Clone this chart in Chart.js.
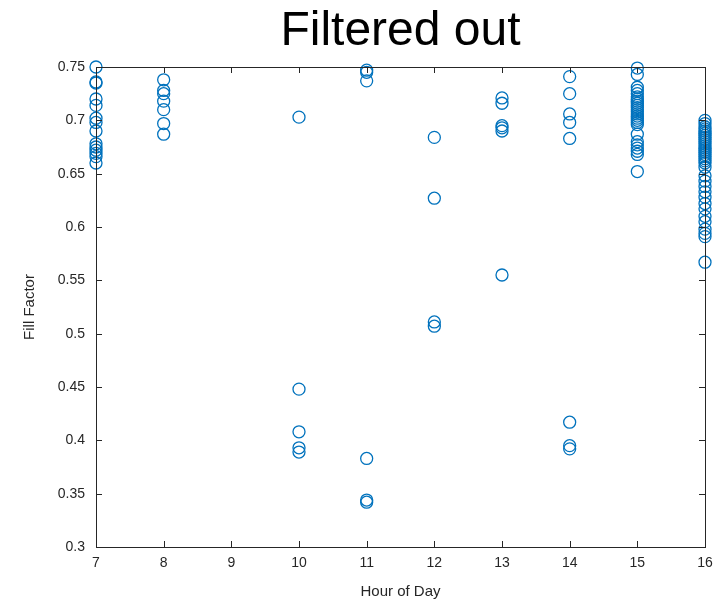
<!DOCTYPE html>
<html lang="en">
<head>
    <meta charset="UTF-8">
    <title>Filtered out</title>
    <script src="https://cdn.jsdelivr.net/npm/chart.js"></script>
    <style>
        html, body { margin: 0; padding: 0; background: #fff; }
        #wrap { position: relative; width: 715px; height: 601px; }
    </style>
</head>
<body>
    <div id="wrap"><canvas id="fillChart" width="715" height="601"></canvas></div>

    <script>
        // fill factor readings, grouped by hour of day
        const hours = [7, 8, 10, 11, 12, 13, 14, 15, 16];
        const h7 = [0.75, 0.736, 0.735, 0.72, 0.714, 0.702, 0.698, 0.69, 0.678, 0.675, 0.672, 0.669, 0.666, 0.66];
        const h8 = [0.738, 0.728, 0.725, 0.718, 0.71, 0.697, 0.687];
        const h10 = [0.703, 0.448, 0.408, 0.393, 0.389];
        const h11 = [0.747, 0.745, 0.737, 0.383, 0.344, 0.342];
        const h12 = [0.684, 0.627, 0.511, 0.507];
        const h13 = [0.721, 0.716, 0.695, 0.693, 0.69, 0.555];
        const h14 = [0.741, 0.725, 0.706, 0.698, 0.683, 0.417, 0.395, 0.392];
        const h15 = [0.749, 0.743, 0.731, 0.728, 0.725, 0.722, 0.72, 0.718, 0.716, 0.714, 0.712, 0.71,
                     0.708, 0.706, 0.704, 0.702, 0.7, 0.698, 0.696, 0.687, 0.68, 0.677, 0.674, 0.671, 0.668, 0.652];
        const h16 = [0.7, 0.697, 0.694, 0.692, 0.69, 0.688, 0.686, 0.684, 0.682, 0.68, 0.678, 0.676, 0.674,
                     0.672, 0.67, 0.668, 0.666, 0.664, 0.662, 0.66, 0.656, 0.648, 0.643, 0.638, 0.633, 0.628,
                     0.622, 0.617, 0.61, 0.605, 0.598, 0.594, 0.591, 0.567];
        const byHour = [h7, h8, h10, h11, h12, h13, h14, h15, h16];
        const xTicks = [7, 8, 9, 10, 11, 12, 13, 14, 15, 16];
        const yTicks = [0.3, 0.35, 0.4, 0.45, 0.5, 0.55, 0.6, 0.65, 0.7, 0.75];

        const points = [];
        hours.forEach((h, i) => byHour[i].forEach(v => points.push({ x: h, y: v })));

        const FONT = "'Liberation Sans', Arial, sans-serif";
        const AXIS = '#262626';

        // matlab-ish box with inward ticks + big title
        const boxPlugin = {
            id: 'box',
            afterDraw(chart) {
                const { ctx, chartArea: a, scales } = chart;
                ctx.save();
                ctx.strokeStyle = AXIS;
                ctx.lineWidth = 1;
                ctx.strokeRect(a.left + 0.5, a.top + 0.5, a.right - a.left, a.bottom - a.top);
                ctx.beginPath();
                xTicks.forEach(t => {
                    const px = Math.round(scales.x.getPixelForValue(t)) + 0.5;
                    ctx.moveTo(px, a.bottom); ctx.lineTo(px, a.bottom - 6);
                    ctx.moveTo(px, a.top); ctx.lineTo(px, a.top + 6);
                });
                yTicks.forEach(t => {
                    const py = Math.round(scales.y.getPixelForValue(t)) + 0.5;
                    ctx.moveTo(a.left, py); ctx.lineTo(a.left + 6, py);
                    ctx.moveTo(a.right, py); ctx.lineTo(a.right - 6, py);
                });
                ctx.stroke();
                ctx.fillStyle = '#000';
                ctx.font = '48px ' + FONT;
                ctx.textAlign = 'center';
                ctx.textBaseline = 'alphabetic';
                ctx.fillText('Filtered out', (a.left + a.right) / 2, 45);
                ctx.restore();
            }
        };

        new Chart(document.getElementById('fillChart'), {
            type: 'scatter',
            data: {
                datasets: [{
                    data: points,
                    pointStyle: 'circle',
                    pointRadius: 6,
                    pointHoverRadius: 6,
                    borderColor: '#0072BD',
                    backgroundColor: 'rgba(0,0,0,0)',
                    borderWidth: 1.3,
                    clip: false
                }]
            },
            options: {
                responsive: false,
                animation: false,
                layout: { padding: { top: 67, right: 10, left: 0, bottom: 0 } },
                plugins: { legend: { display: false }, tooltip: { enabled: false } },
                scales: {
                    x: {
                        type: 'linear', min: 7, max: 16,
                        afterBuildTicks: s => { s.ticks = xTicks.map(v => ({ value: v })); },
                        afterFit: s => { s.height = 54; s.paddingLeft = 0; s.paddingRight = 0; },
                        grid: { display: false, drawTicks: false },
                        border: { display: false },
                        ticks: { color: AXIS, font: { family: FONT, size: 14 }, padding: 8, maxRotation: 0 },
                        title: { display: true, text: 'Hour of Day', color: AXIS, font: { family: FONT, size: 15 }, padding: { top: 0, bottom: 0 } }
                    },
                    y: {
                        type: 'linear', min: 0.3, max: 0.75,
                        afterBuildTicks: s => { s.ticks = yTicks.map(v => ({ value: v })); },
                        afterFit: s => { s.width = 96; s.paddingTop = 0; s.paddingBottom = 0; },
                        grid: { display: false, drawTicks: false },
                        border: { display: false },
                        ticks: { color: AXIS, font: { family: FONT, size: 14 }, padding: 11,
                                 callback: v => String(+v.toFixed(2)) },
                        title: { display: true, text: 'Fill Factor', color: AXIS, font: { family: FONT, size: 15 }, padding: { top: 21, bottom: 0 } }
                    }
                }
            },
            plugins: [boxPlugin]
        });
    </script>
</body>
</html>
